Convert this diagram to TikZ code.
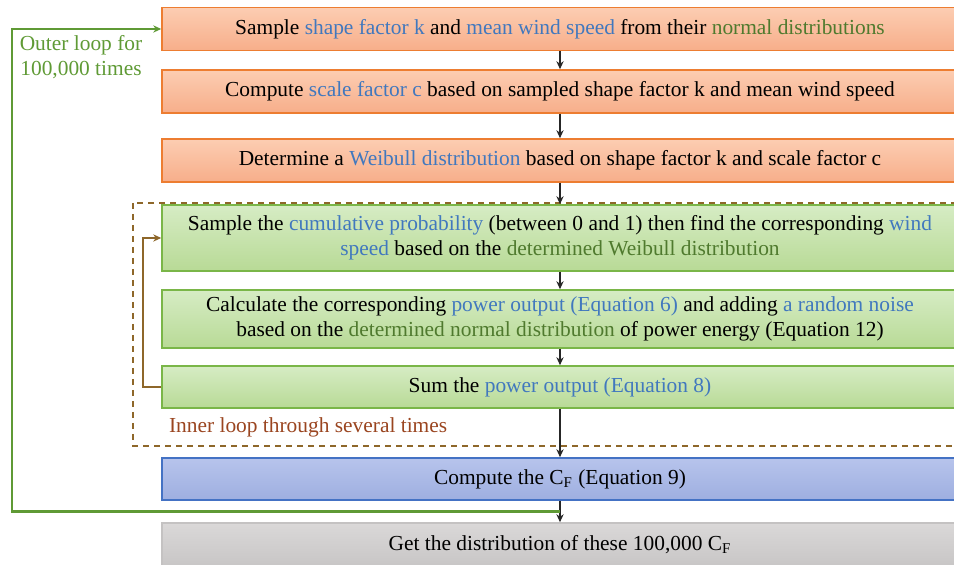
\documentclass[tikz,border=0pt]{standalone}
\usepackage{fontspec}
\setmainfont{Liberation Serif}
\usetikzlibrary{arrows.meta,calc}
\definecolor{BoxOrange}{HTML}{ED7D31}
\definecolor{BoxGreen}{HTML}{7AB648}
\definecolor{BoxBlue}{HTML}{4472C4}
\definecolor{BoxGray}{HTML}{C4C2C2}
\definecolor{TextBlue}{HTML}{4178BE}
\definecolor{TextGreen}{HTML}{4F7A2E}
\definecolor{LoopGreen}{HTML}{5F9A35}
\definecolor{LoopBrown}{HTML}{8E672A}
\definecolor{InnerRed}{HTML}{9A4520}
\newcommand{\hb}[1]{\textcolor{TextBlue}{#1}}
\newcommand{\hg}[1]{\textcolor{TextGreen}{#1}}

\begin{document}
\begin{tikzpicture}[x=0.5pt,y=-0.5pt,line cap=butt,line join=miter,
  font=\fontsize{10.7}{12.5}\selectfont,
  stepbox/.style={draw,line width=0.75pt,minimum width=398pt,align=center,inner sep=2pt},
  orangebox/.style={stepbox,draw=BoxOrange,top color={rgb,255:red,252;green,205;blue,178},bottom color={rgb,255:red,247;green,174;blue,138},minimum height=21.5pt},
  greenbox/.style={stepbox,draw=BoxGreen,top color={rgb,255:red,214;green,236;blue,196},bottom color={rgb,255:red,184;green,218;blue,150}},
  bluebox/.style={stepbox,draw=BoxBlue,top color={rgb,255:red,183;green,196;blue,236},bottom color={rgb,255:red,158;green,175;blue,224},minimum height=21pt},
  graybox/.style={stepbox,draw=BoxGray,top color={rgb,255:red,218;green,216;blue,216},bottom color={rgb,255:red,200;green,198;blue,198},minimum height=21.5pt},
  flow/.style={-{Stealth[length=4pt,width=3.6pt]},line width=0.9pt,black!85},
  loopline/.style={-{Stealth[length=4pt,width=3.6pt]},line width=1.1pt}]
  \useasboundingbox (0,0) rectangle (954,565); \clip (0,0) rectangle (954,565);
  % main steps
  \node[orangebox] (b1) at (560,29) {Sample \hb{shape factor k} and \hb{mean wind speed} from their \hg{normal distributions}};
  \node[orangebox] (b2) at (560,91.5) {Compute \hb{scale factor c} based on sampled shape factor k and mean wind speed};
  \node[orangebox] (b3) at (560,160.5) {Determine a \hb{Weibull distribution} based on shape factor k and scale factor c};
  \node[greenbox,minimum height=33pt] (b4) at (560,238) {Sample the \hb{cumulative probability} (between 0 and 1) then find the corresponding \hb{wind}\\\hb{speed} based on the \hg{determined Weibull distribution}};
  \node[greenbox,minimum height=29pt] (b5) at (560,319) {Calculate the corresponding \hb{power output (Equation 6)} and adding \hb{a random noise}\\based on the \hg{determined normal distribution} of power energy (Equation 12)};
  \node[greenbox,minimum height=21pt] (b6) at (560,387) {Sum the \hb{power output (Equation 8)}};
  \node[bluebox] (b7) at (560,479) {Compute the C\textsubscript{F} (Equation 9)};
  \node[graybox] (b8) at (560,544.5) {Get the distribution of these 100,000 C\textsubscript{F}};
  % inner loop frame
  \draw[LoopBrown,line width=0.7pt,dash pattern=on 3pt off 2.5pt] (133,203) rectangle (962,446);
  \node[InnerRed,anchor=west] (inner) at (162,427) {Inner loop through several times};
  \node[LoopGreen,align=center] (outer) at (81,57) {Outer loop for\\100,000 times};
  \foreach \a/\b in {b1/b2,b2/b3,b3/b4,b4/b5,b5/b6,b6/b7,b7/b8} \draw[flow] (\a) -- (\b);
  % loops
  \coordinate (ic) at (143,238); \coordinate (oc) at (12,29);
  \draw[loopline,LoopBrown] (b6.west) -| (ic) -- (b4.west);
  \draw[loopline,LoopGreen] ($(b7.south)!0.5!(b8.north)$) -| (oc) -- (b1.west);
\end{tikzpicture}
\end{document}
